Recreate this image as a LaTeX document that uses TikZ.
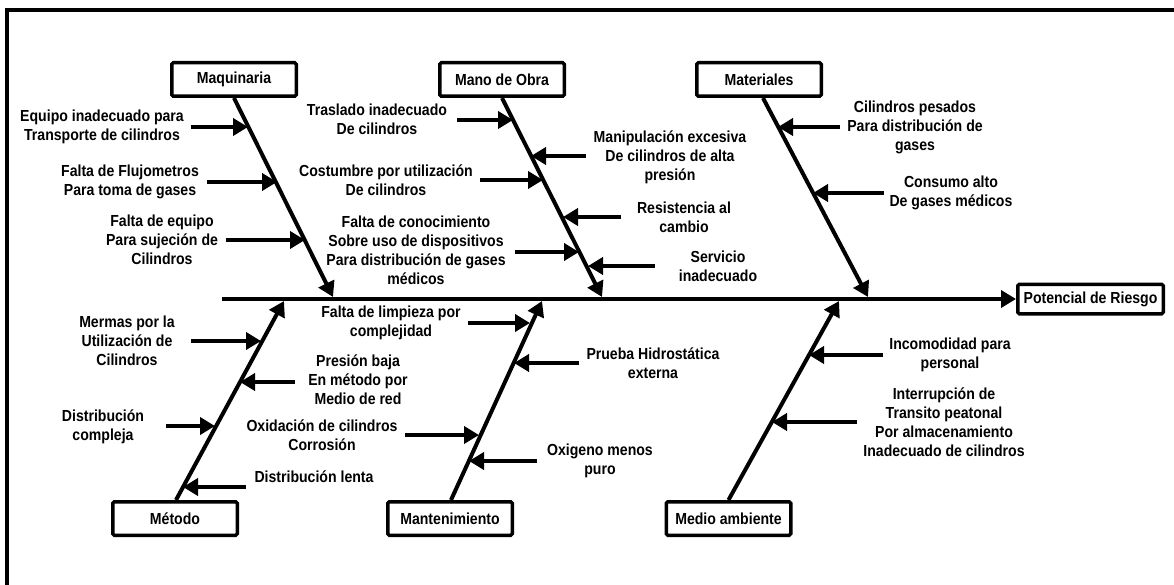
\documentclass[tikz,border=0pt]{standalone}
\usepackage{fontspec}
\setmainfont{Liberation Sans}[FakeStretch=0.88]
\usetikzlibrary{arrows.meta}
\tikzset{
  box/.style={draw, line width=3.5pt, rounded corners=1.5pt, fill=white,
    minimum width=124.5pt, minimum height=33.5pt, inner sep=2pt,
    font=\bfseries\fontsize{16}{18}\selectfont},
  txt/.style={font=\bfseries\fontsize{16}{19}\selectfont, align=center, inner sep=0pt},
  bone/.style={line width=4pt, -{Triangle[length=15pt,width=17pt]}},
  cause/.style={line width=4.5pt, -{Triangle[length=15pt,width=17pt]}}
}
\begin{document}
\begin{tikzpicture}[x=1pt,y=-1pt]
\clip (0,0) rectangle (1174,585);
\fill[white] (0,0) rectangle (1174,585);
\draw[line width=4pt] (7,10) rectangle (1200,620);

% category boxes
\node[box] (mq)  at (234,79.5) {Maquinaria};
\node[box] (mo)  at (502,79.5) {Mano de Obra};
\node[box] (mat) at (759,79.5) {Materiales};
\node[box, minimum width=145.5pt, minimum height=29.5pt] (pot) at (1090.5,299) {Potencial de Riesgo};
\node[box] (met) at (175,518.5) {Método};
\node[box] (man) at (450,518.5) {Mantenimiento};
\node[box] (med) at (728.5,518.5) {Medio ambiente};

% spine and bones
\coordinate (sp) at (222,299);
\draw[bone] (sp) -- (pot.west);
\coordinate (mqE) at (333,297);
\coordinate (moE) at (602,297);
\coordinate (matS) at (763,98);
\coordinate (matE) at (868,297);
\coordinate (metE) at (284,301);
\coordinate (manE) at (542,301);
\coordinate (medE) at (839,301);
\draw[bone] (mq.south) -- (mqE);
\draw[bone] (mo.south) -- (moE);
\draw[bone] (matS) -- (matE);
\draw[bone] ([xshift=1pt]met.north) -- (metE);
\draw[bone] ([xshift=1pt]man.north) -- (manE);
\draw[bone] (med.north) -- (medE);

% cause texts
\node[txt] (t1)  at (102,127) {Equipo inadecuado para\\Transporte de cilindros};
\node[txt] (t2)  at (130,182) {Falta de Flujometros\\Para toma de gases};
\node[txt] (t3)  at (162,240) {Falta de equipo\\Para sujeción de\\Cilindros};
\node[txt] (t4)  at (377,119) {Traslado inadecuado\\De cilindros};
\node[txt] (t5)  at (386,180) {Costumbre por utilización\\De cilindros};
\node[txt] (t6)  at (416,250) {Falta de conocimiento\\Sobre uso de dispositivos\\Para distribución de gases\\médicos};
\node[txt] (t7)  at (670,157) {Manipulación excesiva\\De cilindros de alta\\presión};
\node[txt] (t8)  at (684,217) {Resistencia al\\cambio};
\node[txt] (t9)  at (718,266) {Servicio\\inadecuado};
\node[txt] (t10) at (915,127) {Cilindros pesados\\Para distribución de\\gases};
\node[txt] (t11) at (951,193) {Consumo alto\\De gases médicos};
\node[txt] (t12) at (127,341) {Mermas por la\\Utilización de\\Cilindros};
\node[txt] (t13) at (103,427) {Distribución\\compleja};
\node[txt] (t14) at (358,380) {Presión baja\\En método por\\Medio de red};
\node[txt] (t15) at (314,477) {Distribución lenta};
\node[txt] (t16) at (391,323) {Falta de limpieza por\\complejidad};
\node[txt] (t17) at (322,435) {Oxidación de cilindros\\Corrosión};
\node[txt] (t18) at (653,363) {Prueba Hidrostática\\externa};
\node[txt] (t19) at (600,461) {Oxigeno menos\\puro};
\node[txt] (t20) at (950,355) {Incomodidad para\\personal};
\node[txt] (t21) at (944,422) {Interrupción de\\Transito peatonal\\Por almacenamiento\\Inadecuado de cilindros};

% cause arrows
\foreach \n/\sx/\sy/\ex in {
  1/191/127/248, 2/207/182/277, 3/226/240/305,
  4/457/120/513, 5/480/180/543, 6/515/252/579,
  7/586/156/531, 8/621/217/563, 9/655/266/588,
  10/840/127/778, 11/884/193/813,
  12/191/341/261, 13/166/426/215, 14/295/382/240, 15/246/487/183,
  16/468/323/530, 17/405/435/479, 18/579/363/514, 19/537/461/469,
  20/883/355/809, 21/857/422/772}{
  \coordinate (s\n) at (\sx,\sy);
  \coordinate (e\n) at (\ex,\sy);
  \draw[cause] (s\n) -- (e\n);
}
\end{tikzpicture}
\end{document}
